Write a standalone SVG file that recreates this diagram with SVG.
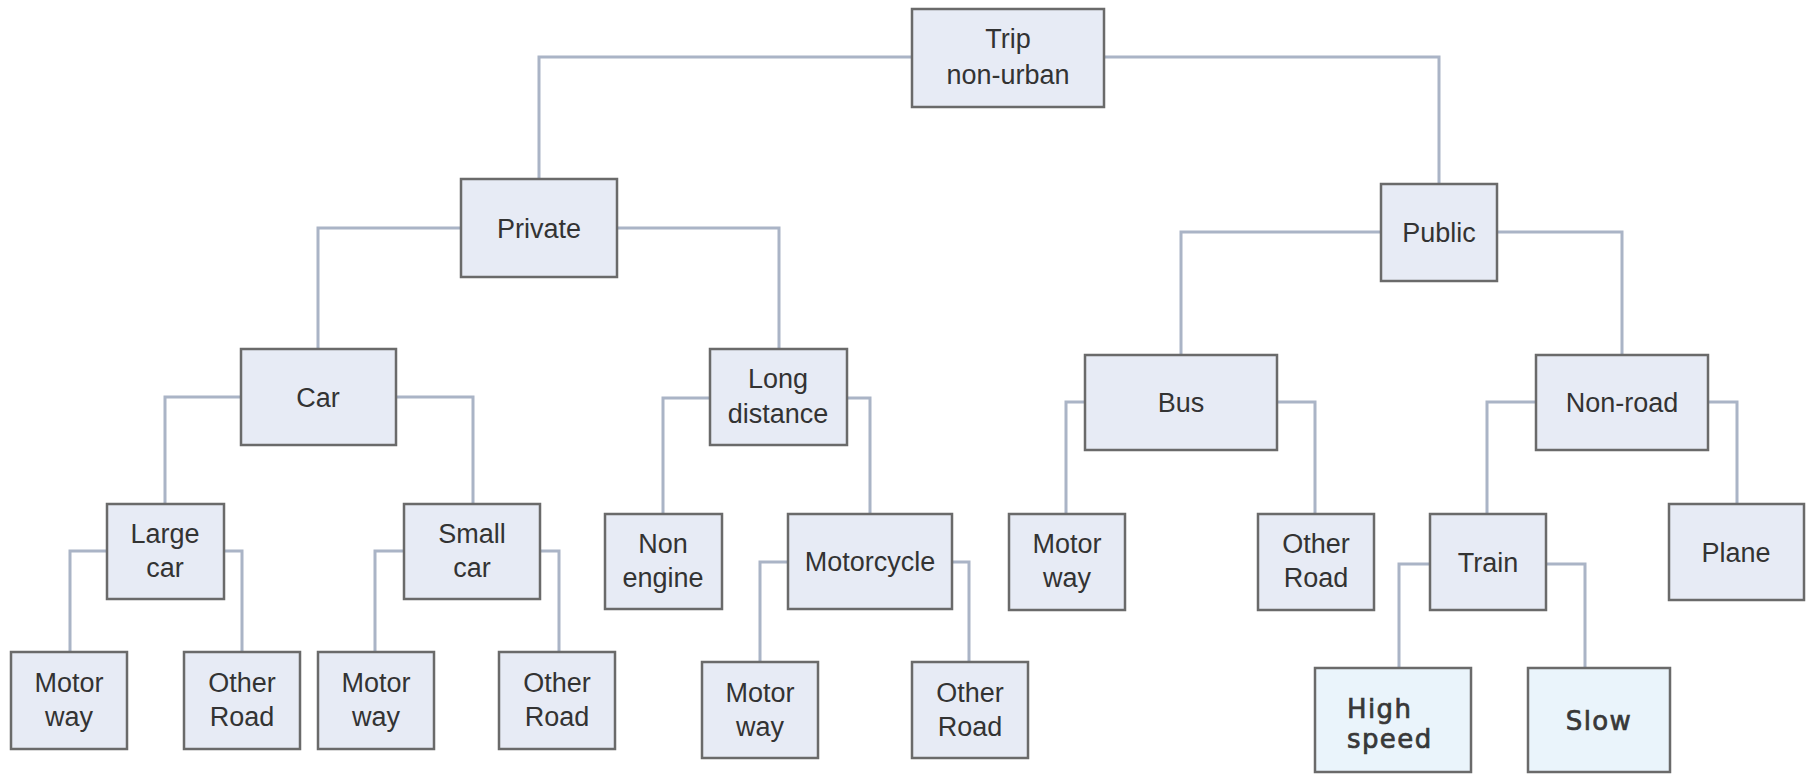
<svg xmlns="http://www.w3.org/2000/svg" width="1808" height="774" viewBox="0 0 1808 774">
  <style>
    .box { fill: #e7ebf5; stroke: #6a6a6a; stroke-width: 2.5; }
    .box2 { fill: #eaf4fb; stroke: #6a6a6a; stroke-width: 2.5; }
    .lbl { font-family: "Liberation Sans", Arial, sans-serif; font-size: 27px; fill: #333333; text-anchor: middle; }
    .lbl2 { font-family: "DejaVu Sans", Verdana, sans-serif; font-size: 26px; letter-spacing: 1.4px; fill: #383838; stroke: #383838; stroke-width: 0.7; }
    .conn { fill: none; stroke: #aab4c6; stroke-width: 3; }
  </style>
  <rect width="1808" height="774" fill="#ffffff"/>

  <!-- elbow connectors: parent side -> child centre -> child top -->
  <g id="connectors" class="conn">
    <path d="M912,57 H539 V179"/>
    <path d="M1104,57 H1439 V184"/>
    <path d="M461,228 H318 V349"/>
    <path d="M617,228 H779 V349"/>
    <path d="M241,397 H165 V504"/>
    <path d="M396,397 H473 V504"/>
    <path d="M710,398 H663 V514"/>
    <path d="M847,398 H870 V514"/>
    <path d="M107,551 H70 V652"/>
    <path d="M224,551 H242 V652"/>
    <path d="M404,551 H375 V652"/>
    <path d="M540,551 H559 V652"/>
    <path d="M788,562 H760 V662"/>
    <path d="M952,562 H969 V662"/>
    <path d="M1381,232 H1181 V355"/>
    <path d="M1497,232 H1622 V355"/>
    <path d="M1085,402 H1066 V514"/>
    <path d="M1277,402 H1315 V514"/>
    <path d="M1536,402 H1487 V514"/>
    <path d="M1708,402 H1737 V504"/>
    <path d="M1430,564 H1399 V668"/>
    <path d="M1546,564 H1585 V668"/>
  </g>

  <g id="trip">
    <rect class="box" x="912" y="9" width="192" height="98"/>
    <text class="lbl" x="1008" y="48">Trip</text>
    <text class="lbl" x="1008" y="84">non-urban</text>
  </g>
  <g id="private">
    <rect class="box" x="461" y="179" width="156" height="98"/>
    <text class="lbl" x="539" y="238">Private</text>
  </g>
  <g id="public">
    <rect class="box" x="1381" y="184" width="116" height="97"/>
    <text class="lbl" x="1439" y="242">Public</text>
  </g>
  <g id="car">
    <rect class="box" x="241" y="349" width="155" height="96"/>
    <text class="lbl" x="318" y="407">Car</text>
  </g>
  <g id="long-distance">
    <rect class="box" x="710" y="349" width="137" height="96"/>
    <text class="lbl" x="778" y="388">Long</text>
    <text class="lbl" x="778" y="423">distance</text>
  </g>
  <g id="bus">
    <rect class="box" x="1085" y="355" width="192" height="95"/>
    <text class="lbl" x="1181" y="412">Bus</text>
  </g>
  <g id="non-road">
    <rect class="box" x="1536" y="355" width="172" height="95"/>
    <text class="lbl" x="1622" y="412">Non-road</text>
  </g>
  <g id="large-car">
    <rect class="box" x="107" y="504" width="117" height="95"/>
    <text class="lbl" x="165" y="543">Large</text>
    <text class="lbl" x="165" y="577">car</text>
  </g>
  <g id="small-car">
    <rect class="box" x="404" y="504" width="136" height="95"/>
    <text class="lbl" x="472" y="543">Small</text>
    <text class="lbl" x="472" y="577">car</text>
  </g>
  <g id="non-engine">
    <rect class="box" x="605" y="514" width="117" height="95"/>
    <text class="lbl" x="663" y="553">Non</text>
    <text class="lbl" x="663" y="587">engine</text>
  </g>
  <g id="motorcycle">
    <rect class="box" x="788" y="514" width="164" height="95"/>
    <text class="lbl" x="870" y="571">Motorcycle</text>
  </g>
  <g id="bus-motorway">
    <rect class="box" x="1009" y="514" width="116" height="96"/>
    <text class="lbl" x="1067" y="553">Motor</text>
    <text class="lbl" x="1067" y="587">way</text>
  </g>
  <g id="bus-other-road">
    <rect class="box" x="1258" y="514" width="116" height="96"/>
    <text class="lbl" x="1316" y="553">Other</text>
    <text class="lbl" x="1316" y="587">Road</text>
  </g>
  <g id="train">
    <rect class="box" x="1430" y="514" width="116" height="96"/>
    <text class="lbl" x="1488" y="572">Train</text>
  </g>
  <g id="plane">
    <rect class="box" x="1669" y="504" width="135" height="96"/>
    <text class="lbl" x="1736" y="562">Plane</text>
  </g>
  <g id="large-car-motorway">
    <rect class="box" x="11" y="652" width="116" height="97"/>
    <text class="lbl" x="69" y="692">Motor</text>
    <text class="lbl" x="69" y="726">way</text>
  </g>
  <g id="large-car-other-road">
    <rect class="box" x="184" y="652" width="116" height="97"/>
    <text class="lbl" x="242" y="692">Other</text>
    <text class="lbl" x="242" y="726">Road</text>
  </g>
  <g id="small-car-motorway">
    <rect class="box" x="318" y="652" width="116" height="97"/>
    <text class="lbl" x="376" y="692">Motor</text>
    <text class="lbl" x="376" y="726">way</text>
  </g>
  <g id="small-car-other-road">
    <rect class="box" x="499" y="652" width="116" height="97"/>
    <text class="lbl" x="557" y="692">Other</text>
    <text class="lbl" x="557" y="726">Road</text>
  </g>
  <g id="motorcycle-motorway">
    <rect class="box" x="702" y="662" width="116" height="96"/>
    <text class="lbl" x="760" y="702">Motor</text>
    <text class="lbl" x="760" y="736">way</text>
  </g>
  <g id="motorcycle-other-road">
    <rect class="box" x="912" y="662" width="116" height="96"/>
    <text class="lbl" x="970" y="702">Other</text>
    <text class="lbl" x="970" y="736">Road</text>
  </g>
  <g id="high-speed">
    <rect class="box2" x="1315" y="668" width="156" height="104"/>
    <text class="lbl2" x="1347" y="718">High</text>
    <text class="lbl2" x="1347" y="748">speed</text>
  </g>
  <g id="slow">
    <rect class="box2" x="1528" y="668" width="142" height="104"/>
    <text class="lbl2" x="1599" y="730" text-anchor="middle">Slow</text>
  </g>
</svg>
